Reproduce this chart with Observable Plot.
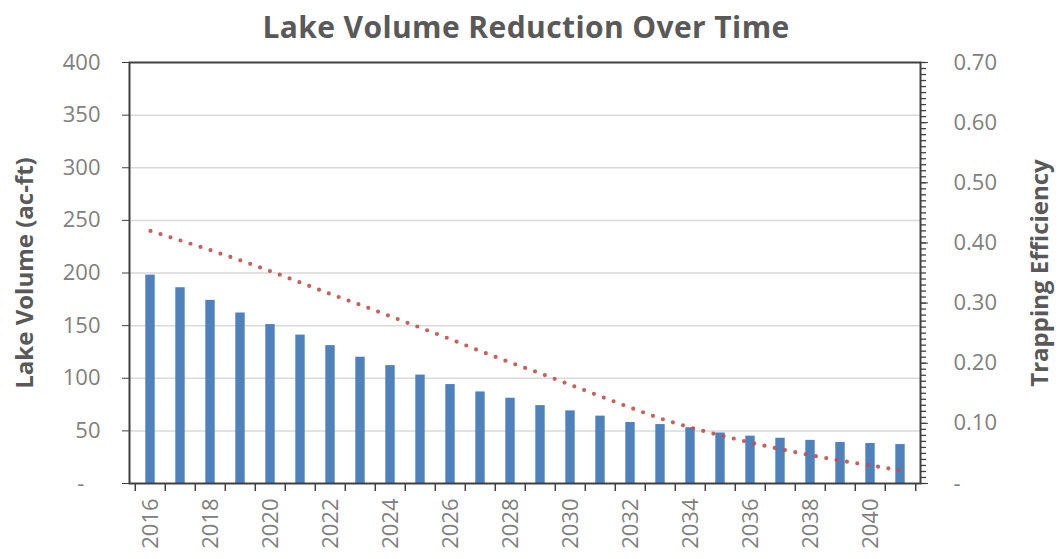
<!DOCTYPE html>
<html>
<head>
<meta charset="utf-8">
<script src="https://cdn.jsdelivr.net/npm/d3@7"></script>
<script src="https://cdn.jsdelivr.net/npm/@observablehq/plot@0.6"></script>
<style>
  html, body { margin: 0; padding: 0; background: #fff; }
  #chart svg { display: block; }
</style>
</head>
<body>
<div id="chart"></div>
<script>
// ---- data ----
const years = [2016, 2017, 2018, 2019, 2020, 2021, 2022, 2023, 2024, 2025, 2026, 2027, 2028,
               2029, 2030, 2031, 2032, 2033, 2034, 2035, 2036, 2037, 2038, 2039, 2040, 2041];
const lakeVolume = [198, 186, 174, 162, 151, 141, 131, 120, 112, 103, 94, 87, 81,
                    74, 69, 64, 58, 56, 53, 48, 45, 43, 41, 39, 38, 37];
const trappingEfficiency = [0.420, 0.404, 0.388, 0.371, 0.353, 0.334, 0.315, 0.297, 0.278, 0.259, 0.240, 0.220, 0.201,
                            0.183, 0.164, 0.145, 0.126, 0.108, 0.093, 0.080, 0.068, 0.057, 0.047, 0.038, 0.030, 0.022];
const volumeTicks = [0, 50, 100, 150, 200, 250, 300, 350, 400];
const efficiencyTicks = [0, 0.10, 0.20, 0.30, 0.40, 0.50, 0.60, 0.70];
const labelYears = [2016, 2018, 2020, 2022, 2024, 2026, 2028, 2030, 2032, 2034, 2036, 2038, 2040];
const chartTitle = "Lake Volume Reduction Over Time";
const leftTitle = "Lake Volume (ac-ft)";
const rightTitle = "Trapping Efficiency";

// ---- layout ----
const W = 1060, H = 559;
const mL = 129, mR = 140, mT = 62, mB = 76;
const bw = (W - mL - mR) / years.length;
const vMax = 400, eMax = 0.70;
const toV = e => e * vMax / eMax;   // map efficiency onto volume axis
const minorTicks = d3.range(0, 71).map(i => toV(i / 100));

const rows = years.map((y, i) => ({year: y, volume: lakeVolume[i], eff: trappingEfficiency[i]}));

const gray = "#808080", dark = "#404040", titleCol = "#595959";

const chart = Plot.plot({
  width: W, height: H,
  marginLeft: mL, marginRight: mR, marginTop: mT, marginBottom: mB,
  style: {fontFamily: "Open Sans, sans-serif", fontSize: "22px", background: "#fff"},
  x: {type: "band", domain: years, padding: 0, axis: null},
  y: {domain: [0, vMax], axis: null},
  marks: [
    Plot.ruleY(volumeTicks.filter(v => v > 0 && v < vMax), {stroke: "#d9d9d9", strokeWidth: 1.5}),
    Plot.barY(rows, {x: "year", y: "volume", fill: "#4f81bd", insetLeft: 10.3, insetRight: 10.3}),
    Plot.line(rows, {x: "year", y: d => toV(d.eff), stroke: "#c0504d", strokeWidth: 4.2,
                     strokeDasharray: "0,10.5", strokeLinecap: "round", strokeOpacity: 0.9}),
    Plot.frame({stroke: dark, strokeWidth: 2}),
    // left axis
    Plot.axisY({ticks: volumeTicks, tickSize: 7, tickPadding: 22, stroke: dark, fill: gray, fontSize: 22,
                tickFormat: d => d === 0 ? "-\u2007\u2009" : String(d), label: null}),
    // right axis (minor + major)
    Plot.axisY({anchor: "right", ticks: minorTicks, tickSize: 5, text: null, stroke: dark, strokeWidth: 1.3, label: null}),
    Plot.axisY({anchor: "right", ticks: efficiencyTicks.map(toV), tickSize: 7, tickPadding: 26,
                stroke: dark, fill: gray, fontSize: 22, label: null,
                tickFormat: d => { const e = d * eMax / vMax; return e < 1e-9 ? "-" : e.toFixed(2); }}),
    // x axis: boundary ticks and rotated labels
    Plot.axisX({ticks: years, tickSize: 8, text: null, dx: -bw / 2, stroke: dark, strokeWidth: 1.5, label: null}),
    Plot.axisX({ticks: [years[years.length - 1]], tickSize: 8, text: null, dx: bw / 2, stroke: dark, strokeWidth: 1.5, label: null}),
    Plot.axisX({ticks: labelYears, tickSize: 0, tickRotate: -90, tickPadding: 15, fill: gray, fontSize: 22,
                tickFormat: d => String(d), label: null}),
    // titles
    Plot.text([chartTitle], {frameAnchor: "top", dy: -34, dx: 1, lineAnchor: "middle", textAnchor: "middle",
                             fill: titleCol, fontWeight: "bold", fontSize: 30, letterSpacing: 0.4}),
    Plot.text([leftTitle], {frameAnchor: "left", rotate: -90, dx: -104, textAnchor: "middle", fill: titleCol,
                            fontWeight: "bold", fontSize: 24}),
    Plot.text([rightTitle], {frameAnchor: "right", rotate: -90, dx: 120, textAnchor: "middle", fill: titleCol,
                             fontWeight: "bold", fontSize: 24})
  ]
});
chart.querySelectorAll("text").forEach(t => { if (t.textContent === chartTitle) t.style.letterSpacing = "0.4px"; });
document.getElementById("chart").appendChild(chart);
</script>
</body>
</html>
